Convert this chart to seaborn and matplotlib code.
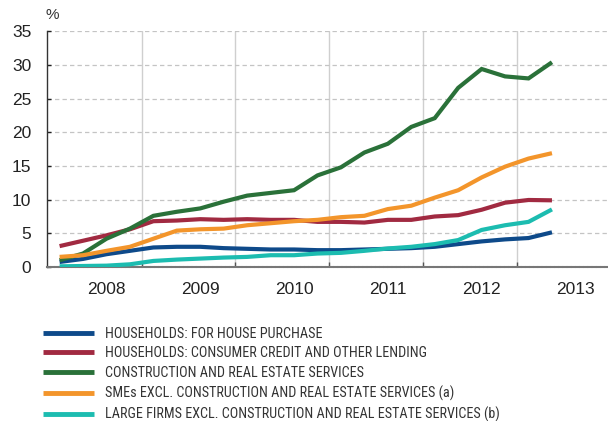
import numpy as np
import pandas as pd
import matplotlib
matplotlib.use("Agg")
import matplotlib.pyplot as plt
import seaborn as sns
from matplotlib import font_manager

# ---- data (quarterly, 2008 Q1 .. 2013 Q2) ----
quarters = list(range(22))
house_purchase = [0.75, 1.2, 1.9, 2.4, 2.9, 3.0, 3.0, 2.8, 2.7, 2.6, 2.6, 2.5,
                  2.5, 2.6, 2.7, 2.8, 3.0, 3.4, 3.8, 4.1, 4.3, 5.15]
consumer_credit = [3.1, 3.9, 4.7, 5.6, 6.8, 6.9, 7.1, 7.0, 7.1, 7.0, 7.0, 6.7,
                   6.7, 6.6, 7.0, 7.0, 7.5, 7.7, 8.5, 9.55, 9.95, 9.9]
construction = [1.0, 2.0, 4.2, 5.7, 7.6, 8.2, 8.7, 9.7, 10.6, 11.0, 11.4, 13.6,
                14.8, 17.0, 18.3, 20.8, 22.1, 26.6, 29.4, 28.3, 28.0, 30.4]
smes = [1.5, 1.75, 2.4, 3.0, 4.2, 5.4, 5.6, 5.7, 6.2, 6.5, 6.8, 7.0,
        7.4, 7.6, 8.6, 9.1, 10.3, 11.4, 13.3, 14.9, 16.1, 16.9]
large_firms = [0.1, 0.15, 0.2, 0.4, 0.9, 1.1, 1.25, 1.4, 1.5, 1.75, 1.75, 2.0,
               2.1, 2.4, 2.75, 3.0, 3.4, 4.0, 5.5, 6.2, 6.7, 8.55]

series_names = [
    "HOUSEHOLDS: FOR HOUSE PURCHASE",
    "HOUSEHOLDS: CONSUMER CREDIT AND OTHER LENDING",
    "CONSTRUCTION AND REAL ESTATE SERVICES",
    "SMEs EXCL. CONSTRUCTION AND REAL ESTATE SERVICES (a)",
    "LARGE FIRMS EXCL. CONSTRUCTION AND REAL ESTATE SERVICES (b)",
]
series_values = [house_purchase, consumer_credit, construction, smes, large_firms]
colors = ["#0e4a8a", "#a12a41", "#2a7139", "#f3952b", "#1cbcb0"]

year_labels = ["2008", "2009", "2010", "2011", "2012", "2013"]
year_label_pos = [2, 6, 10, 14, 18, 22]
year_bounds = [3.5, 7.5, 11.5, 15.5, 19.5]
y_ticks = [0, 5, 10, 15, 20, 25, 30, 35]

df = pd.concat(
    [pd.DataFrame({"q": quarters, "value": v, "series": n})
     for n, v in zip(series_names, series_values)],
    ignore_index=True,
)

sns.set_theme(style="white")
plt.rcParams["font.family"] = ["Liberation Sans", "DejaVu Sans"]

# pick a condensed family for the legend if one is installed
installed = {f.name for f in font_manager.fontManager.ttflist}
legend_family = "Liberation Sans"
legend_size = 9.0
legend_spacing = 0.6
for cand, size in [("Liberation Sans Narrow", 10.2), ("Roboto Condensed", 10.2),
                   ("Open Sans Condensed", 9.8), ("DejaVu Sans Condensed", 9.3)]:
    if cand in installed:
        legend_family, legend_size, legend_spacing = cand, size, 0.41
        break

fig = plt.figure(figsize=(6.08, 4.21), dpi=100)
ax = fig.add_axes([46.7 / 608, 0.3658, 1 - 46.7 / 608, 0.5599])

# grid
for xb in year_bounds:
    ax.axvline(xb, color="#cfcfcf", lw=1.0, zorder=0)
for yt in y_ticks[1:]:
    ax.axhline(yt, color="#c4c4c4", lw=0.9, ls=(0, (3.5, 2.5)), zorder=0)

sns.lineplot(data=df, x="q", y="value", hue="series", palette=colors,
             hue_order=series_names, lw=3.0, ax=ax, legend=False,
             solid_joinstyle="miter", solid_capstyle="butt", zorder=3)

ax.set_xlim(-0.55, 23.39)
ax.set_ylim(0, 35)
ax.set_xlabel("")
ax.set_ylabel("")

ax.set_yticks(y_ticks)
ax.set_yticklabels([str(t) for t in y_ticks])
ax.set_xticks(year_label_pos)
ax.set_xticklabels(year_labels)
ax.set_xticks(year_bounds, minor=True)
ax.tick_params(axis="x", which="major", length=0, pad=11, labelsize=12.5,
               colors="#222222")
ax.tick_params(axis="x", which="minor", length=3.5, width=1, direction="in",
               color="#555555", bottom=True)
ax.tick_params(axis="y", which="major", length=3, width=1, direction="in",
               pad=11, labelsize=12.5, colors="#222222", left=True)

for s in ["top", "right"]:
    ax.spines[s].set_visible(False)
ax.spines["left"].set_color("#333333")
ax.spines["left"].set_linewidth(1.0)
ax.spines["bottom"].set_color("#777777")
ax.spines["bottom"].set_linewidth(1.5)
ax.spines["bottom"].set_linestyle((0, (1.2, 0.8)))

fig.text(52 / 608, 1 - 15 / 421, "%", ha="center", va="center",
         fontsize=11, color="#333333")

handles = [plt.Line2D([], [], color=c, lw=3.5, solid_capstyle="butt")
           for c in colors]
px = legend_size * 100 / 72
leg = fig.legend(handles, series_names, loc="upper left",
                 bbox_to_anchor=(43 / 608, 1 - 326.5 / 421), frameon=False,
                 handlelength=51 / px, handletextpad=11 / px,
                 labelspacing=legend_spacing,
                 borderpad=0, borderaxespad=0,
                 prop={"family": [legend_family, "DejaVu Sans"],
                       "size": legend_size})
for t in leg.get_texts():
    t.set_color("#333333")

fig.savefig("out.png", dpi=100)
